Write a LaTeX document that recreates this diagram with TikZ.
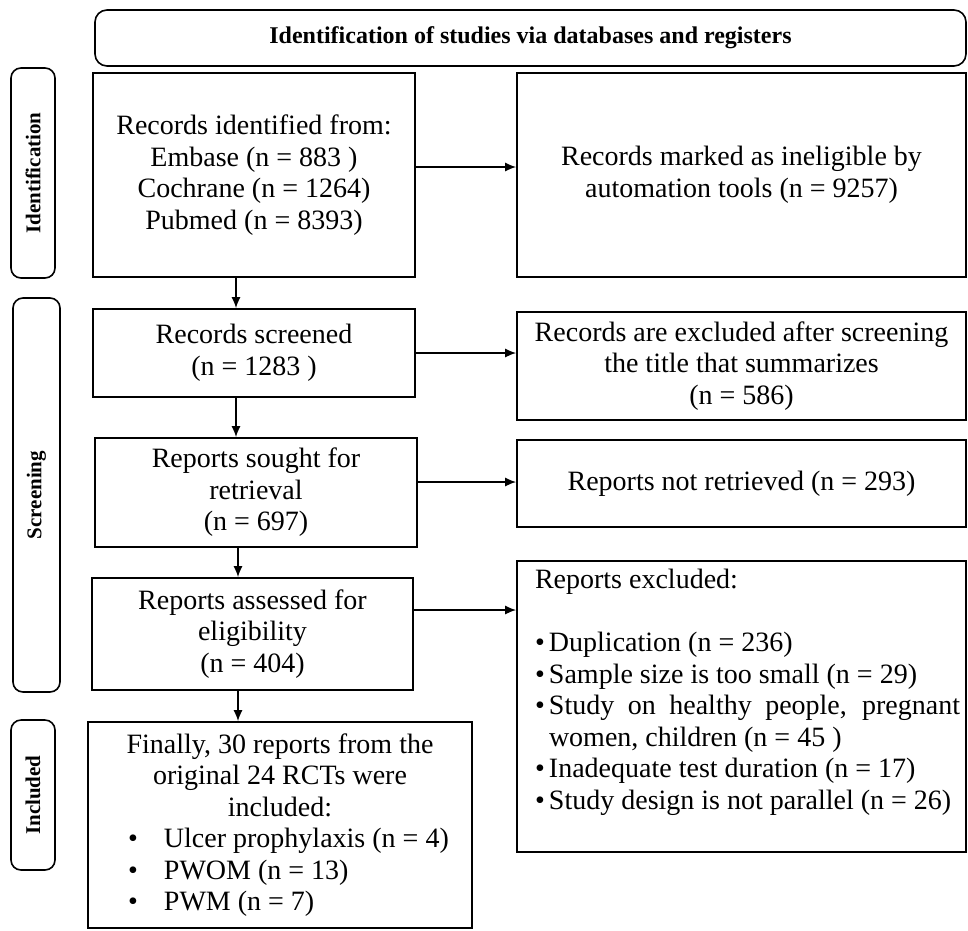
\documentclass[tikz,border=0pt]{standalone}
\usepackage{fontspec}
\setmainfont{Liberation Serif}
\usetikzlibrary{arrows.meta}
\newcommand{\itm}{\makebox[14pt][l]{\textbullet}}

\begin{document}
\begin{tikzpicture}[x=1pt,y=-1pt,
    box/.style={draw,line width=1.6pt,inner sep=0pt,font=\fontsize{28}{31.5}\selectfont},
    side/.style={draw,line width=1.6pt,rounded corners=10pt,rotate=90,inner sep=0pt,font=\fontsize{21}{24}\bfseries\selectfont},
    arr/.style={line width=1.6pt,-{Latex[length=11pt,width=9pt]}}]
    \useasboundingbox (0,0) rectangle (968,930);
    \node[box,rounded corners=12pt,minimum width=871pt,minimum height=56pt,font=\fontsize{24}{28}\bfseries\selectfont] (head) at (530.5,38) {Identification of studies via databases and registers};
    \node[side,minimum width=210pt,minimum height=44pt] (sideid) at (33,173) {Identification};
    \node[side,minimum width=394pt,minimum height=47pt] (sidescr) at (36.5,495) {Screening};
    \node[side,minimum width=150pt,minimum height=44pt] (sideinc) at (33,795) {Included};
    \node[box,align=center,minimum width=322pt,minimum height=204pt] (ident) at (254,175) {Records identified from:\\Embase (n = 883 )\\Cochrane (n = 1264)\\Pubmed (n = 8393)};
    \node[box,align=center,minimum width=449pt,minimum height=204pt] (marked) at (741.5,175) {Records marked as ineligible by\\automation tools (n = 9257)};
    \node[box,align=center,minimum width=322pt,minimum height=88pt] (screened) at (254,353) {Records screened\\(n = 1283 )};
    \node[box,align=center,minimum width=449pt,minimum height=108pt] (exclrec) at (741.5,366) {Records are excluded after screening\\the title that summarizes\\(n = 586)};
    \node[box,align=center,minimum width=322pt,minimum height=109pt] (sought) at (256,492.5) {Reports sought for\\retrieval\\(n = 697)};
    \node[box,align=center,minimum width=449pt,minimum height=87pt] (notret) at (741.5,483.5) {Reports not retrieved (n = 293)};
    \node[box,align=center,minimum width=321pt,minimum height=112pt] (assessed) at (252.5,634) {Reports assessed for\\eligibility\\(n = 404)};
    \node[box,minimum width=449pt,minimum height=291pt] (exclrep) at (741.5,706.5) {\hspace*{12pt}\parbox[c][275pt][t]{425pt}{Reports excluded:\\[32pt]
        \itm Duplication (n = 236)\\
        \itm Sample size is too small (n = 29)\\
        \makebox[425pt][s]{\itm Study on healthy people, pregnant}\\
        \hspace*{14pt}women, children (n = 45 )\\
        \itm Inadequate test duration (n = 17)\\
        \itm Study design is not parallel (n = 26)}};
    \node[box,minimum width=384pt,minimum height=206pt] (final) at (280,825) {\parbox{360pt}{\centering Finally, 30 reports from the\\original 24 RCTs were\\included:\par\raggedright
        \hspace*{28pt}\makebox[36pt][l]{\textbullet}Ulcer prophylaxis (n = 4)\\
        \hspace*{28pt}\makebox[36pt][l]{\textbullet}PWOM (n = 13)\\
        \hspace*{28pt}\makebox[36pt][l]{\textbullet}PWM (n = 7)}};
    \draw[arr] ([yshift=8pt]ident.east) -- ([yshift=8pt]ident.east -| marked.west);
    \draw[arr] (screened.east) -- (screened.east -| exclrec.west);
    \draw[arr] ([yshift=10.5pt]sought.east) -- ([yshift=10.5pt]sought.east -| notret.west);
    \draw[arr] ([yshift=24pt]assessed.east) -- ([yshift=24pt]assessed.east -| exclrep.west);
    \draw[arr] ([xshift=-18pt]ident.south) -- ([xshift=-18pt]ident.south |- screened.north);
    \draw[arr] ([xshift=-18pt]screened.south) -- ([xshift=-18pt]screened.south |- sought.north);
    \draw[arr] ([xshift=-18pt]sought.south) -- ([xshift=-18pt]sought.south |- assessed.north);
    \draw[arr] ([xshift=-14.5pt]assessed.south) -- ([xshift=-14.5pt]assessed.south |- final.north);
\end{tikzpicture}
\end{document}
